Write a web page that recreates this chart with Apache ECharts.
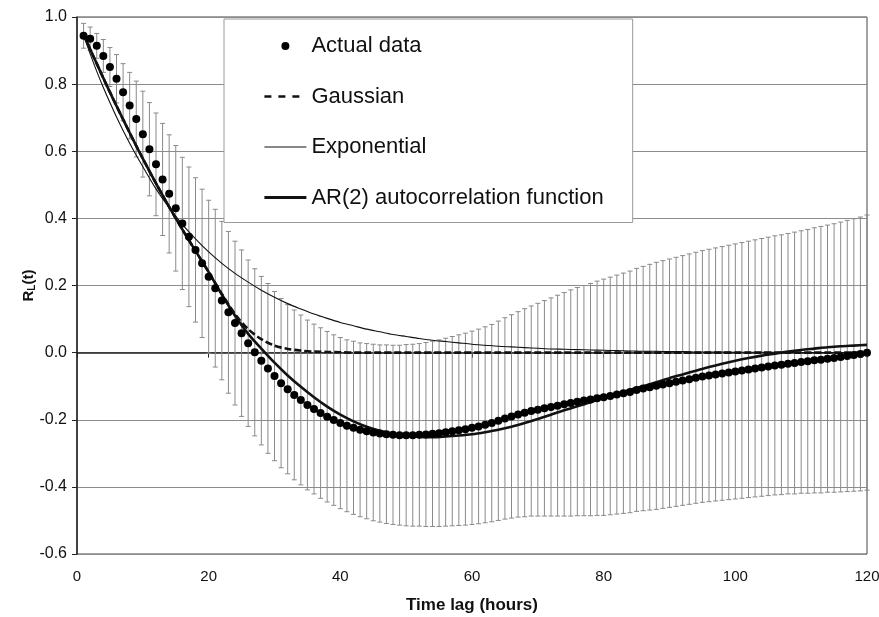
<!DOCTYPE html>
<html>
<head>
<meta charset="utf-8">
<script src="https://cdn.jsdelivr.net/npm/echarts@6/dist/echarts.min.js"></script>
<style>
html,body{margin:0;padding:0;background:#fff;}
#chart{width:879px;height:617px;}
</style>
</head>
<body>
<div id="chart"></div>
<script>
// Actual data (lag 1..120 hours)
const actualData = [
  0.944, 0.935, 0.914, 0.884, 0.851, 0.816, 0.776, 0.736, 0.696, 0.651,
  0.606, 0.561, 0.516, 0.473, 0.430, 0.385, 0.345, 0.306, 0.266, 0.226,
  0.192, 0.155, 0.120, 0.088, 0.058, 0.028, 0.001, -0.024, -0.047, -0.070,
  -0.091, -0.109, -0.126, -0.141, -0.156, -0.168, -0.180, -0.191, -0.201, -0.210,
  -0.218, -0.224, -0.230, -0.234, -0.238, -0.241, -0.243, -0.245, -0.246, -0.246,
  -0.246, -0.245, -0.244, -0.242, -0.240, -0.237, -0.234, -0.231, -0.228, -0.224,
  -0.220, -0.215, -0.210, -0.203, -0.196, -0.190, -0.184, -0.179, -0.174, -0.170,
  -0.166, -0.162, -0.158, -0.154, -0.150, -0.146, -0.143, -0.140, -0.136, -0.133,
  -0.129, -0.125, -0.121, -0.117, -0.111, -0.107, -0.103, -0.099, -0.095, -0.091,
  -0.087, -0.083, -0.079, -0.075, -0.071, -0.068, -0.065, -0.062, -0.059, -0.056,
  -0.053, -0.050, -0.047, -0.044, -0.041, -0.038, -0.036, -0.033, -0.031, -0.028,
  -0.026, -0.023, -0.021, -0.018, -0.016, -0.013, -0.010, -0.007, -0.004, 0.000
];
// Error bar half-widths (lag 1..120)
const errorHalf = [
  0.037, 0.035, 0.037, 0.049, 0.058, 0.072, 0.085, 0.099, 0.113, 0.128,
  0.139, 0.153, 0.167, 0.176, 0.187, 0.197, 0.208, 0.215, 0.221, 0.228,
  0.235, 0.236, 0.241, 0.244, 0.248, 0.248, 0.249, 0.251, 0.253, 0.252,
  0.252, 0.252, 0.253, 0.253, 0.253, 0.253, 0.254, 0.254, 0.254, 0.255,
  0.256, 0.258, 0.259, 0.261, 0.263, 0.264, 0.266, 0.267, 0.268, 0.270,
  0.271, 0.272, 0.274, 0.276, 0.278, 0.280, 0.282, 0.284, 0.286, 0.288,
  0.290, 0.292, 0.294, 0.297, 0.300, 0.303, 0.306, 0.310, 0.313, 0.317,
  0.321, 0.325, 0.329, 0.333, 0.337, 0.340, 0.343, 0.346, 0.349, 0.352,
  0.354, 0.356, 0.358, 0.360, 0.362, 0.364, 0.366, 0.368, 0.369, 0.370,
  0.371, 0.372, 0.373, 0.374, 0.375, 0.376, 0.377, 0.378, 0.379, 0.380,
  0.381, 0.382, 0.383, 0.384, 0.385, 0.386, 0.387, 0.388, 0.390, 0.391,
  0.393, 0.395, 0.397, 0.398, 0.400, 0.402, 0.404, 0.406, 0.408, 0.410
];
// Lags at which the model curves were read
const curveLags = [
  1, 2, 3, 4, 5, 6, 7, 8, 9, 10, 12, 14, 16, 18, 20, 22, 24, 26, 28, 30,
  32, 34, 36, 38, 40, 42, 44, 46, 48, 50, 52, 54, 56, 58, 60, 62, 64, 66, 68, 70,
  72, 74, 76, 78, 80, 82, 84, 86, 88, 90, 92, 94, 96, 98, 100, 102, 104, 106, 108, 110,
  112, 114, 116, 118, 120
];
const gaussianValues = [
  0.948, 0.904, 0.861, 0.818, 0.776, 0.735, 0.695, 0.655, 0.616, 0.578, 0.504, 0.434, 0.367, 0.303, 0.240, 0.175, 0.115, 0.070, 0.040, 0.021,
  0.011, 0.006, 0.003, 0.002, 0.001, 0.000, 0.000, 0.000, 0.000, 0.000, 0.000, 0.000, 0.000, 0.000, 0.000, 0.000, 0.000, 0.000, 0.000, 0.000,
  0.000, 0.000, 0.000, 0.000, 0.000, 0.000, 0.000, 0.000, 0.000, 0.000, 0.000, 0.000, 0.000, 0.000, 0.000, 0.000, 0.000, 0.000, 0.000, 0.000,
  0.000, 0.000, 0.000, 0.000, 0.000
];
const exponentialValues = [
  0.945, 0.890, 0.838, 0.790, 0.745, 0.702, 0.662, 0.624, 0.588, 0.554, 0.488, 0.432, 0.382, 0.339, 0.300, 0.266, 0.236, 0.210, 0.186, 0.165,
  0.146, 0.130, 0.115, 0.102, 0.090, 0.080, 0.070, 0.062, 0.054, 0.048, 0.042, 0.037, 0.033, 0.029, 0.025, 0.022, 0.019, 0.017, 0.015, 0.013,
  0.011, 0.010, 0.009, 0.008, 0.007, 0.006, 0.005, 0.004, 0.004, 0.003, 0.003, 0.002, 0.002, 0.002, 0.001, 0.001, 0.001, 0.001, 0.001, 0.000,
  0.000, 0.000, 0.000, 0.000, 0.000
];
const ar2Values = [
  0.948, 0.904, 0.861, 0.818, 0.776, 0.735, 0.695, 0.655, 0.616, 0.578, 0.504, 0.434, 0.367, 0.303, 0.240, 0.173, 0.110, 0.056, 0.012, -0.030,
  -0.068, -0.102, -0.133, -0.161, -0.185, -0.205, -0.221, -0.233, -0.242, -0.247, -0.251, -0.252, -0.250, -0.247, -0.243, -0.237, -0.230, -0.221, -0.210, -0.198,
  -0.185, -0.172, -0.160, -0.148, -0.135, -0.123, -0.111, -0.100, -0.088, -0.076, -0.065, -0.054, -0.043, -0.033, -0.024, -0.016, -0.009, -0.003, 0.003, 0.008,
  0.012, 0.016, 0.019, 0.021, 0.023
];
const seriesNames = ['Actual data', 'Gaussian', 'Exponential', 'AR(2) autocorrelation function'];
const yTicks = { min: -0.6, max: 1.0, step: 0.2 };
const xTicks = { min: 0, max: 120, step: 20 };

const FONT = "'Liberation Sans', Arial, sans-serif";
const lagHours = actualData.map((_, i) => i + 1);
const pointData = lagHours.map((x, i) => [x, actualData[i]]);
const errData = lagHours.map((x, i) => [x, actualData[i], errorHalf[i]]);
const pairs = vals => curveLags.map((x, i) => [x, vals[i]]);
const hiddenSymbol = { color: 'rgba(0,0,0,0)', borderWidth: 0, opacity: 0 };

const chart = echarts.init(document.getElementById('chart'), null, { renderer: 'canvas' });
chart.setOption({
  animation: false,
  backgroundColor: '#fff',
  textStyle: { fontFamily: FONT, color: '#111' },
  grid: {
    left: 77, right: 12, top: 17, bottom: 63,
    outerBoundsMode: 'none', containLabel: false,
    show: true, borderColor: '#444', borderWidth: 1, backgroundColor: 'transparent'
  },
  legend: {
    data: [
      { name: seriesNames[0] },
      { name: seriesNames[1], itemStyle: hiddenSymbol, lineStyle: { color: '#111', width: 2.6, type: [7, 7] } },
      { name: seriesNames[2], itemStyle: hiddenSymbol, lineStyle: { color: '#111', width: 1 } },
      { name: seriesNames[3], itemStyle: hiddenSymbol, lineStyle: { color: '#111', width: 2.8 } }
    ],
    orient: 'vertical',
    left: 224, top: 19,
    padding: [16, 29, 14, 39],
    itemGap: 28.5,
    itemWidth: 42, itemHeight: 8,
    backgroundColor: '#fff',
    borderColor: '#9a9a9a', borderWidth: 1,
    textStyle: { fontFamily: FONT, fontSize: 22, color: '#111' },
    selectedMode: false
  },
  xAxis: {
    type: 'value', min: xTicks.min, max: xTicks.max, interval: xTicks.step,
    name: 'Time lag (hours)', nameLocation: 'middle', nameGap: 43, nameMoveOverlap: false,
    nameTextStyle: { fontFamily: FONT, fontSize: 17, fontWeight: 'bold', color: '#111' },
    axisLine: { lineStyle: { color: '#222', width: 1.5 } },
    axisTick: { show: true, length: 5, lineStyle: { color: '#222' } },
    axisLabel: { fontFamily: FONT, fontSize: 15, color: '#111', margin: 15 },
    splitLine: { show: false }
  },
  yAxis: {
    type: 'value', min: yTicks.min, max: yTicks.max, interval: yTicks.step,
    name: '{a|R}{b|L}{a|(t)}', nameLocation: 'middle', nameGap: 40, nameRotate: 90, nameMoveOverlap: false,
    nameTextStyle: {
      fontFamily: FONT, fontWeight: 'bold', color: '#111',
      rich: {
        a: { fontFamily: FONT, fontSize: 15, fontWeight: 'bold', color: '#111' },
        b: { fontFamily: FONT, fontSize: 10, fontWeight: 'bold', color: '#111', verticalAlign: 'bottom', padding: [6, 0, 0, 0] }
      }
    },
    axisLine: { show: true, lineStyle: { color: '#222', width: 1.5 } },
    axisTick: { show: true, length: 5, lineStyle: { color: '#222' } },
    axisLabel: {
      fontFamily: FONT, fontSize: 16, color: '#111', margin: 10,
      formatter: v => (Math.abs(v) < 1e-9 ? 0 : v).toFixed(1)
    },
    splitLine: { show: true, lineStyle: { color: '#8c8c8c', width: 1 } }
  },
  series: [
    {
      name: 'Error', type: 'custom', z: 1,
      data: errData,
      encode: { x: 0, y: 1 },
      renderItem: function (params, api) {
        const x = api.value(0), y = api.value(1), h = api.value(2);
        const top = api.coord([x, y + h]);
        const bot = api.coord([x, y - h]);
        const cw = 2.5;
        const style = { stroke: '#8a8a8a', lineWidth: 1 };
        return {
          type: 'group',
          children: [
            { type: 'line', shape: { x1: top[0], y1: top[1], x2: bot[0], y2: bot[1] }, style },
            { type: 'line', shape: { x1: top[0] - cw, y1: top[1], x2: top[0] + cw, y2: top[1] }, style },
            { type: 'line', shape: { x1: bot[0] - cw, y1: bot[1], x2: bot[0] + cw, y2: bot[1] }, style }
          ]
        };
      }
    },
    {
      name: 'Exponential', type: 'line', z: 3, data: pairs(exponentialValues),
      symbol: 'none', smooth: 0.3, color: '#111',
      lineStyle: { color: '#111', width: 1.1 }
    },
    {
      name: 'AR(2) autocorrelation function', type: 'line', z: 4, data: pairs(ar2Values),
      symbol: 'none', smooth: 0.3, color: '#111',
      lineStyle: { color: '#111', width: 2.6 }
    },
    {
      name: 'Gaussian', type: 'line', z: 5, data: pairs(gaussianValues),
      symbol: 'none', smooth: 0.3, color: '#111',
      lineStyle: { color: '#111', width: 2.6, type: [7, 3] }
    },
    {
      name: 'Actual data', type: 'scatter', z: 6, data: pointData,
      symbol: 'circle', symbolSize: 8,
      itemStyle: { color: '#000', opacity: 1 }
    }
  ]
});
</script>
</body>
</html>
